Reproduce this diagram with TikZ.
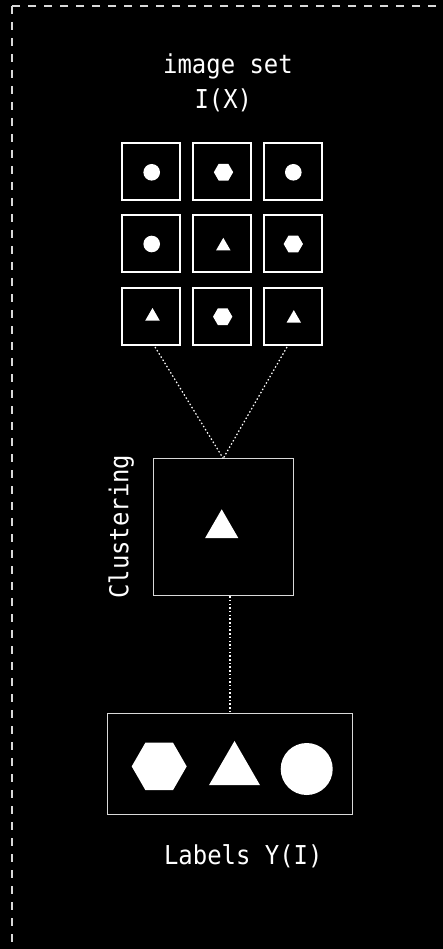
\documentclass[tikz,border=0pt]{standalone}
\usepackage{fontspec}
\newfontfamily\monofont[FakeStretch=0.92]{DejaVu Sans Mono}
\usetikzlibrary{shapes.geometric,calc}
\tikzset{
  cell/.style={draw=white, line width=2pt, minimum width=58pt, minimum height=57pt, inner sep=0pt},
  bigbox/.style={draw=white!85!black, line width=1pt, inner sep=0pt},
  dot/.style={circle, fill=white, inner sep=0pt, minimum size=#1},
  hexa/.style={regular polygon, regular polygon sides=6, fill=white, inner sep=0pt, minimum size=#1},
  tri/.style={regular polygon, regular polygon sides=3, fill=white, inner sep=0pt, minimum size=#1},
  link/.style={draw=white, line width=1.2pt, dash pattern=on 1.5pt off 2.2pt},
  txt/.style={text=white, font=\monofont\fontsize{26}{30}\selectfont, inner sep=0pt, anchor=base},
}
\begin{document}
\begin{tikzpicture}[x=1pt,y=-1pt]
\useasboundingbox (0,0) rectangle (443,949);
\fill[black] (0,0) rectangle (443,949);
\clip (0,0) rectangle (443,949);
\draw[draw=white!85!black, line width=1.2pt, dash pattern=on 8pt off 8pt] (12,6) rectangle (480,990);

\node[txt] (t1) at (228,73.3) {image set};
\node[txt] (t2) at (223.3,108.3) {I(X)};

% grid
\node[cell] (g11) at (151,172) {};
\node[cell] (g12) at (222,172) {};
\node[cell] (g13) at (293,172) {};
\node[cell] (g21) at (151,244) {};
\node[cell] (g22) at (222,244) {};
\node[cell] (g23) at (293,244) {};
\node[cell] (g31) at (151,316.5) {};
\node[cell] (g32) at (222,316.5) {};
\node[cell] (g33) at (293,316.5) {};

\node[dot=16.6pt] (s11) at (151.7,172.3) {};
\node[hexa=19.3pt] (s12) at (223.5,172.2) {};
\node[dot=16.6pt] (s13) at (293.3,172.3) {};
\node[dot=16.6pt] (s21) at (151.7,244) {};
\node[tri=16.8pt] (s22) at (223.3,246.2) {};
\node[hexa=19.3pt] (s23) at (293.3,244) {};
\node[tri=16.8pt] (s31) at (152.5,316.4) {};
\node[hexa=19.3pt] (s32) at (222.7,316.7) {};
\node[tri=16.8pt] (s33) at (293.8,318.5) {};

% clustering
\node[bigbox, minimum width=139.7pt, minimum height=136.7pt] (clus) at (223.2,527.3) {};
\node[tri=38.4pt] (ctri) at (221.7,528.5) {};
\node[txt, rotate=90] (clab) at (128.3,526.7) {Clustering};

% labels
\node[bigbox, minimum width=245.4pt, minimum height=100.7pt] (lab) at (230,764.3) {};
\node[hexa=55pt] (lhex) at (159.2,766.4) {};
\node[tri=58.9pt] (ltri) at (234.5,770.4) {};
\node[dot=52pt] (lcir) at (306.7,769) {};
\node[txt] (llab) at (243.3,864.3) {Labels Y(I)};

% connectors
\draw[link] ($(g31.south)+(4,1)$) -- (clus.north);
\draw[link] ($(g33.south)+(-6,1)$) -- (clus.north);
\draw[link] (lab.north |- clus.south) -- (lab.north);
\end{tikzpicture}
\end{document}
